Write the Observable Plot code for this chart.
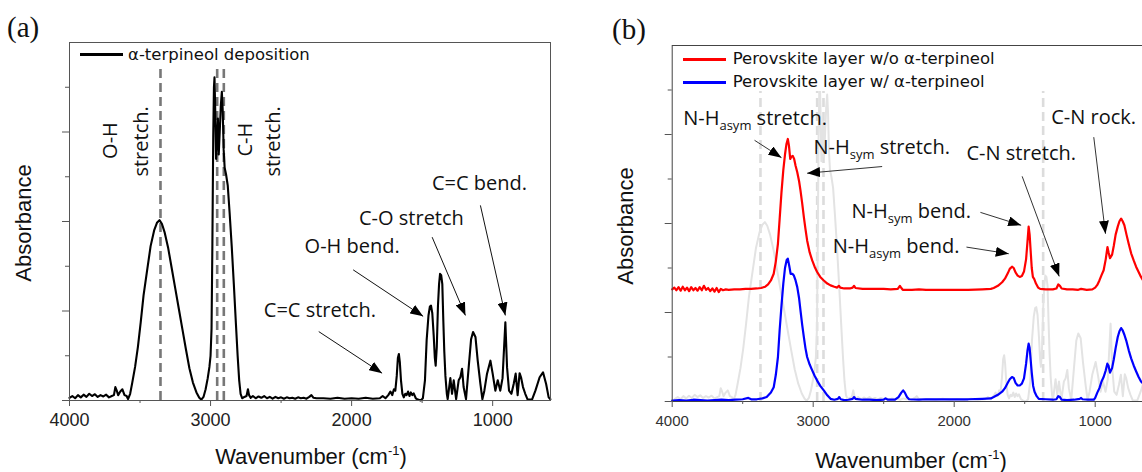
<!DOCTYPE html>
<html><head><meta charset="utf-8">
<script src="https://cdn.jsdelivr.net/npm/d3@7"></script>
<script src="https://cdn.jsdelivr.net/npm/@observablehq/plot@0.6"></script>
<style>
html,body{margin:0;padding:0;background:#fff;overflow:hidden;}
#fig{position:relative;width:1142px;height:472px;overflow:hidden;font-family:"Liberation Sans",Arial,sans-serif;color:#111;}
</style></head>
<body><div id="fig"></div>
<script>
// ---------- axes / ticks ----------
const xDomain = [4000, 590];
const yDomain = [0, 8];
const xMajor = [4000, 3000, 2000, 1000];
const xMinor = [3500, 2500, 1500];
const yMajor = [0, 2, 4, 6];
const yMinor = [1, 3, 5, 7];

// ---------- panel (a): alpha-terpineol spectrum [wavenumber, absorbance] ----------
const terpineolSpectrum = [
[4000,0.06],[3980,0.1],[3960,0.05],[3940,0.12],[3920,0.07],[3900,0.13],[3880,0.08],[3860,0.15],[3840,0.1],[3820,0.14],
[3800,0.08],[3780,0.12],[3760,0.09],[3740,0.13],[3720,0.07],[3700,0.1],[3685,0.12],[3675,0.3],[3665,0.22],[3655,0.12],
[3640,0.2],[3625,0.25],[3610,0.12],[3595,0.1],[3585,0.03],[3570,0.15],[3555,0.4],[3535,0.75],[3515,1.2],[3495,1.75],
[3475,2.35],[3450,2.9],[3425,3.45],[3400,3.8],[3380,3.97],[3362,4.03],[3345,3.95],[3325,3.75],[3300,3.4],[3275,2.95],
[3250,2.5],[3225,2.05],[3200,1.6],[3175,1.15],[3150,0.72],[3125,0.4],[3100,0.18],[3080,0.06],[3065,0.02],[3050,0.08],
[3035,0.25],[3020,0.5],[3008,0.75],[3000,1.0],[2993,1.6],[2987,3.5],[2981,5.9],[2976,7.0],[2972,7.22],[2967,6.5],
[2961,5.4],[2955,5.8],[2948,6.3],[2942,5.5],[2935,6.0],[2927,6.6],[2920,6.9],[2914,6.5],[2907,5.6],[2900,5.2],
[2890,5.05],[2878,4.8],[2865,4.2],[2850,3.45],[2835,2.6],[2820,1.7],[2808,1.0],[2797,0.45],[2787,0.15],[2776,0.05],
[2760,0.08],[2745,0.1],[2735,0.25],[2727,0.12],[2715,0.06],[2700,0.1],[2680,0.05],[2660,0.09],[2640,0.06],[2620,0.1],
[2600,0.05],[2580,0.08],[2560,0.04],[2540,0.08],[2520,0.05],[2500,0.07],[2480,0.04],[2460,0.07],[2440,0.05],[2420,0.06],
[2400,0.04],[2380,0.07],[2360,0.05],[2340,0.06],[2320,0.04],[2300,0.08],[2285,0.12],[2270,0.06],[2250,0.05],[2200,0.05],
[2150,0.04],[2100,0.06],[2050,0.04],[2000,0.05],[1950,0.04],[1900,0.06],[1850,0.04],[1800,0.05],[1780,0.1],[1760,0.05],
[1740,0.12],[1725,0.2],[1712,0.12],[1700,0.25],[1690,0.22],[1680,0.55],[1672,0.95],[1665,1.04],[1658,0.85],[1650,0.45],
[1640,0.15],[1630,0.07],[1620,0.15],[1610,0.12],[1600,0.2],[1590,0.1],[1580,0.18],[1570,0.12],[1560,0.16],[1545,0.05],
[1530,0.02],[1510,0.0],[1495,0.05],[1480,0.45],[1468,1.35],[1455,1.9],[1445,2.1],[1437,2.12],[1428,1.95],[1418,1.45],
[1410,0.95],[1404,0.78],[1396,1.2],[1388,2.1],[1380,2.6],[1373,2.83],[1365,2.8],[1357,2.6],[1350,1.8],[1343,1.1],
[1335,0.55],[1325,0.15],[1319,0.03],[1300,0.5],[1288,0.15],[1276,0.45],[1259,0.03],[1241,0.45],[1229,0.52],[1217,0.71],
[1206,0.3],[1189,0.03],[1170,0.74],[1153,1.37],[1139,1.53],[1122,1.42],[1106,0.89],[1087,0.37],[1073,0.03],[1059,0.22],
[1040,0.6],[1016,0.89],[1000,0.6],[981,0.22],[964,0.45],[946,0.22],[930,0.5],[910,1.75],[898,0.74],[884,0.22],
[867,0.15],[851,0.37],[837,0.6],[823,0.12],[809,0.61],[799,0.52],[785,0.3],[769,0.15],[752,0.02],[721,0.02],
[697,0.22],[667,0.52],[643,0.63],[621,0.37],[603,0.07],[591,0.03]
];
const dashA = [3355, 2953, 2906];

const labelsA = [
  {wn: 3709, a: 5.81, text: "O-H", rotate: -90},
  {wn: 3490, a: 5.79, text: "stretch.", rotate: -90},
  {wn: 2753, a: 5.83, text: "C-H", rotate: -90},
  {wn: 2554, a: 5.79, text: "stretch.", rotate: -90},
  {wn: 1094, a: 4.85, text: "C=C bend.", rotate: 0},
  {wn: 1576, a: 4.07, text: "C-O stretch", rotate: 0},
  {wn: 1996, a: 3.43, text: "O-H bend.", rotate: 0},
  {wn: 2225, a: 2.01, text: "C=C stretch.", rotate: 0}
];
const arrowsA = [
  {x1: 2233, y1: 1.54, x2: 1784, y2: 0.61},
  {x1: 1989, y1: 2.92, x2: 1493, y2: 1.88},
  {x1: 1429, y1: 3.65, x2: 1193, y2: 1.9},
  {x1: 1087, y1: 4.36, x2: 910, y2: 1.9}
];

// ---------- panel (b): perovskite spectra ----------
const withoutTerpineol = [
[4000,2.52],[3985,2.56],[3970,2.5],[3955,2.57],[3940,2.49],[3925,2.58],[3910,2.5],[3895,2.56],[3880,2.48],[3865,2.57],
[3850,2.5],[3835,2.55],[3820,2.49],[3805,2.57],[3790,2.5],[3775,2.6],[3760,2.51],[3745,2.55],[3730,2.48],[3715,2.54],
[3700,2.47],[3685,2.55],[3670,2.46],[3655,2.53],[3640,2.5],[3620,2.52],[3600,2.51],[3560,2.52],[3520,2.52],[3480,2.53],
[3440,2.53],[3400,2.54],[3370,2.55],[3340,2.58],[3320,2.63],[3300,2.72],[3280,2.87],[3265,3.15],[3250,3.55],[3238,4.1],
[3225,4.7],[3212,5.2],[3200,5.55],[3190,5.78],[3180,5.9],[3172,5.75],[3163,5.45],[3155,5.5],[3145,5.52],[3135,5.45],
[3125,5.3],[3113,5.15],[3100,4.95],[3090,4.74],[3078,4.45],[3066,4.14],[3055,3.88],[3043,3.62],[3025,3.35],[3007,3.17],
[2990,3.03],[2972,2.91],[2950,2.8],[2925,2.72],[2900,2.65],[2877,2.61],[2850,2.58],[2830,2.56],[2818,2.6],[2808,2.56],
[2780,2.54],[2740,2.54],[2720,2.56],[2710,2.6],[2700,2.55],[2650,2.53],[2600,2.53],[2550,2.53],[2500,2.53],[2450,2.52],
[2400,2.53],[2385,2.6],[2375,2.55],[2365,2.51],[2300,2.51],[2250,2.52],[2200,2.51],[2100,2.51],[2000,2.51],[1900,2.51],
[1800,2.52],[1740,2.53],[1720,2.55],[1690,2.6],[1660,2.68],[1640,2.76],[1620,2.88],[1606,2.98],[1590,3.03],[1578,3.0],
[1565,2.9],[1550,2.83],[1535,2.8],[1520,2.82],[1505,2.92],[1490,3.2],[1480,3.6],[1472,3.93],[1465,3.75],[1458,3.4],
[1450,3.0],[1442,2.8],[1432,2.75],[1420,2.65],[1405,2.56],[1390,2.53],[1350,2.52],[1300,2.52],[1275,2.54],[1262,2.63],
[1250,2.6],[1238,2.54],[1200,2.52],[1160,2.52],[1120,2.51],[1100,2.53],[1060,2.51],[1020,2.52],[1000,2.56],[985,2.62],
[970,2.72],[955,2.84],[940,2.95],[925,3.2],[913,3.47],[905,3.35],[895,3.22],[880,3.3],[868,3.5],[855,3.75],
[840,3.93],[828,4.05],[816,4.11],[805,4.05],[793,3.96],[778,3.75],[762,3.54],[745,3.33],[727,3.17],[710,3.03],
[692,2.91],[675,2.8],[660,2.72],[640,2.66],[620,2.62],[600,2.6],[590,2.6]
];
const withTerpineol = [
[4000,0.02],[3950,0.03],[3900,0.02],[3850,0.04],[3800,0.03],[3750,0.02],[3700,0.03],[3650,0.04],[3600,0.03],[3550,0.04],
[3500,0.05],[3460,0.08],[3440,0.05],[3400,0.05],[3360,0.07],[3330,0.1],[3300,0.2],[3280,0.32],[3265,0.6],[3250,1.0],
[3238,1.6],[3225,2.15],[3212,2.65],[3200,3.0],[3188,3.18],[3180,3.21],[3170,3.05],[3160,2.87],[3148,2.87],[3137,2.83],
[3125,2.72],[3113,2.57],[3100,2.32],[3090,2.04],[3078,1.72],[3066,1.44],[3055,1.2],[3043,1.0],[3025,0.83],[3007,0.7],
[2990,0.58],[2972,0.47],[2950,0.35],[2925,0.25],[2900,0.14],[2877,0.06],[2850,0.04],[2825,0.06],[2815,0.1],[2805,0.05],
[2780,0.03],[2750,0.04],[2720,0.06],[2710,0.1],[2700,0.06],[2650,0.04],[2600,0.04],[2550,0.03],[2500,0.04],[2487,0.07],
[2470,0.04],[2420,0.04],[2395,0.1],[2375,0.2],[2362,0.25],[2350,0.2],[2335,0.1],[2320,0.05],[2250,0.04],[2200,0.05],
[2100,0.05],[2000,0.05],[1900,0.05],[1800,0.06],[1740,0.07],[1720,0.1],[1690,0.15],[1660,0.22],[1640,0.3],[1620,0.42],
[1606,0.5],[1590,0.55],[1578,0.53],[1565,0.42],[1550,0.36],[1535,0.36],[1520,0.4],[1505,0.52],[1490,0.85],[1480,1.15],
[1472,1.3],[1465,1.2],[1458,0.95],[1450,0.65],[1440,0.35],[1430,0.22],[1415,0.12],[1400,0.06],[1350,0.05],[1300,0.04],
[1275,0.05],[1262,0.12],[1250,0.1],[1238,0.04],[1200,0.03],[1150,0.04],[1110,0.06],[1100,0.08],[1090,0.05],[1050,0.04],
[1010,0.04],[1000,0.08],[985,0.2],[970,0.3],[955,0.45],[940,0.55],[925,0.7],[914,0.85],[905,0.8],[895,0.65],
[880,0.75],[868,0.95],[855,1.2],[840,1.45],[828,1.58],[816,1.65],[805,1.6],[793,1.5],[778,1.35],[762,1.15],
[745,0.97],[727,0.81],[710,0.68],[692,0.55],[675,0.45],[660,0.4],[640,0.33],[620,0.28],[600,0.25],[590,0.24]
];
const ghostDashB = [3374, 2972, 2927, 1369];

const labelsB = [
  {wn: 3922, a: 6.35, text: "N-H_{asym} stretch."},
  {wn: 2998, a: 5.71, text: "N-H_{sym} stretch."},
  {wn: 1913, a: 5.57, text: "C-N stretch."},
  {wn: 1312, a: 6.39, text: "C-N rock."},
  {wn: 2728, a: 4.27, text: "N-H_{sym} bend."},
  {wn: 2861, a: 3.47, text: "N-H_{asym} bend."}
];
const arrowsB = [
  {x1: 3416, y1: 5.87, x2: 3225, y2: 5.48},
  {x1: 2511, y1: 5.28, x2: 3043, y2: 5.13},
  {x1: 1814, y1: 4.25, x2: 1525, y2: 3.96},
  {x1: 1913, y1: 3.47, x2: 1613, y2: 3.32},
  {x1: 1518, y1: 5.06, x2: 1255, y2: 2.81},
  {x1: 1010, y1: 5.94, x2: 927, y2: 3.77}
];

const legendA = [{label: "\u03b1-terpineol deposition", color: "#000"}];
const legendB = [
  {label: "Perovskite layer w/o \u03b1-terpineol", color: "#ff0000"},
  {label: "Perovskite layer w/ \u03b1-terpineol", color: "#0000ff"}
];

// ---------- helpers ----------
const fig = document.getElementById("fig");
function addDiv(html, css) {
  const d = document.createElement("div");
  d.innerHTML = html;
  Object.assign(d.style, {position: "absolute", whiteSpace: "nowrap", lineHeight: "1"}, css);
  fig.appendChild(d);
  return d;
}
function finishSvg(svg, id, left) {
  const s = d3.select(svg);
  s.style("position", "absolute").style("left", left + "px").style("top", "0px");
  const defs = s.append("defs");
  defs.append("marker").attr("id", id).attr("viewBox", "0 0 13 10")
    .attr("refX", 13).attr("refY", 5).attr("markerWidth", 13).attr("markerHeight", 10)
    .attr("markerUnits", "userSpaceOnUse").attr("orient", "auto")
    .append("path").attr("d", "M0,0L13,5L0,10Z").attr("fill", "#000");
  s.selectAll('g[aria-label="link"] path').attr("marker-end", `url(#${id})`);
  s.selectAll("text").each(function() {
    const t = this.textContent;
    const m = t.match(/^(.*)_\{(.+)\}(.*)$/);
    if (!m) return;
    const sel = d3.select(this);
    sel.text(null);
    sel.append("tspan").text(m[1]);
    sel.append("tspan").attr("font-size", 13).attr("dy", 5).text(m[2]);
    sel.append("tspan").attr("dy", -5).text(m[3]);
  });
  fig.appendChild(svg);
}
const axisMarks = (fs, pad, col) => [
  Plot.axisX({ticks: xMajor, tickSize: 6, tickPadding: pad, fontSize: fs, tickFormat: d => String(d), label: null, stroke: "#555", fill: col}),
  Plot.axisX({ticks: xMinor, tickSize: 3, tickFormat: () => "", label: null, stroke: "#555"}),
  Plot.axisY({ticks: yMajor, tickSize: 7, tickFormat: () => "", label: null, stroke: "#555"}),
  Plot.axisY({ticks: yMinor, tickSize: 4, tickFormat: () => "", label: null, stroke: "#555"})
];
const annFont = "'Open Sans', 'Noto Sans', sans-serif";

// ---------- panel (a) ----------
const plotA = Plot.plot({
  width: 570, height: 472,
  marginLeft: 69, marginRight: 20, marginTop: 42, marginBottom: 72,
  style: {background: "transparent", overflow: "visible", fontFamily: "'Liberation Sans', Arial, sans-serif"},
  x: {domain: xDomain, label: null},
  y: {domain: yDomain, label: null},
  marks: [
    Plot.ruleX(dashA, {x: d => d, y1: 0, y2: 7.4, stroke: "#777", strokeWidth: 2.6, strokeDasharray: "9,5"}),
    Plot.line(terpineolSpectrum, {x: d => d[0], y: d => d[1], stroke: "#000", strokeWidth: 2.1, strokeLinejoin: "round"}),
    Plot.frame({stroke: "#555"}),
    ...axisMarks(18, 7, "#222"),
    Plot.link(arrowsA, {x1: "x1", y1: "y1", x2: "x2", y2: "y2", stroke: "#111", strokeWidth: 1}),
    Plot.text(labelsA, {x: "wn", y: "a", text: "text", rotate: "rotate", fontSize: 20, fontFamily: annFont, fill: "#111"})
  ]
});
finishSvg(plotA, "headA", 0);

// ---------- panel (b) ----------
const plotB = Plot.plot({
  width: 600, height: 472,
  marginLeft: 101.7, marginRight: 17.5, marginTop: 45, marginBottom: 71,
  style: {background: "transparent", overflow: "visible", fontFamily: "'Liberation Sans', Arial, sans-serif"},
  x: {domain: xDomain, label: null},
  y: {domain: yDomain, label: null},
  marks: [
    Plot.ruleX(ghostDashB, {x: d => d, y1: 0, y2: 7.4, stroke: "#dcdcdc", strokeWidth: 2.6, strokeDasharray: "9,5"}),
    Plot.line(terpineolSpectrum, {x: d => d[0], y: d => d[1], dx: 2.7, stroke: "#e3e3e3", strokeWidth: 2}),
    Plot.line(withoutTerpineol, {x: d => d[0], y: d => d[1], stroke: legendB[0].color, strokeWidth: 2.2, strokeLinejoin: "round"}),
    Plot.line(withTerpineol, {x: d => d[0], y: d => d[1], stroke: legendB[1].color, strokeWidth: 2.2, strokeLinejoin: "round"}),
    Plot.frame({stroke: "#444"}),
    ...axisMarks(15, 8, "#333"),
    Plot.link(arrowsB, {x1: "x1", y1: "y1", x2: "x2", y2: "y2", stroke: "#333", strokeWidth: 1}),
    Plot.text(labelsB, {x: "wn", y: "a", text: "text", textAnchor: "start", fontSize: 20, fontFamily: annFont, fill: "#111"})
  ]
});
finishSvg(plotB, "headB", 570);

// ---------- html text: panel labels, axis titles, legends ----------
const serif = "'Liberation Serif', 'Times New Roman', serif";
addDiv("(a)", {left: "7px", top: "13px", fontFamily: serif, fontSize: "29px"});
addDiv("(b)", {left: "612px", top: "15px", fontFamily: serif, fontSize: "29px"});

const sup = '<span style="font-size:13px;position:relative;top:-9px">-1</span>';
[[24, 223], [626, 226]].forEach(([x, y]) =>
  addDiv("Absorbance", {left: x + "px", top: y + "px", fontSize: "22px", transform: "translate(-50%,-50%) rotate(-90deg)"}));
[[311, 457], [911, 461]].forEach(([x, y]) =>
  addDiv("Wavenumber (cm" + sup + ")", {left: x + "px", top: y + "px", fontSize: "22px", transform: "translate(-50%,-50%)"}));

// white legend box in (b) that hides the ghost trace
addDiv("", {left: "673px", top: "46px", width: "467px", height: "45px", background: "#fff"});

const legFont = "'DejaVu Sans', Verdana, sans-serif";
function legendRow(item, lx, tx, y) {
  addDiv("", {left: lx + "px", top: (y - 1.5) + "px", width: "43px", height: "3px", background: item.color});
  addDiv(item.label, {left: tx + "px", top: y + "px", fontFamily: legFont, fontSize: "16.5px", transform: "translate(0,-50%)"});
}
legendRow(legendA[0], 79.5, 128, 54.5);
legendRow(legendB[0], 683, 732.7, 59.3);
legendRow(legendB[1], 683, 732.7, 82.4);
</script>
</body></html>
